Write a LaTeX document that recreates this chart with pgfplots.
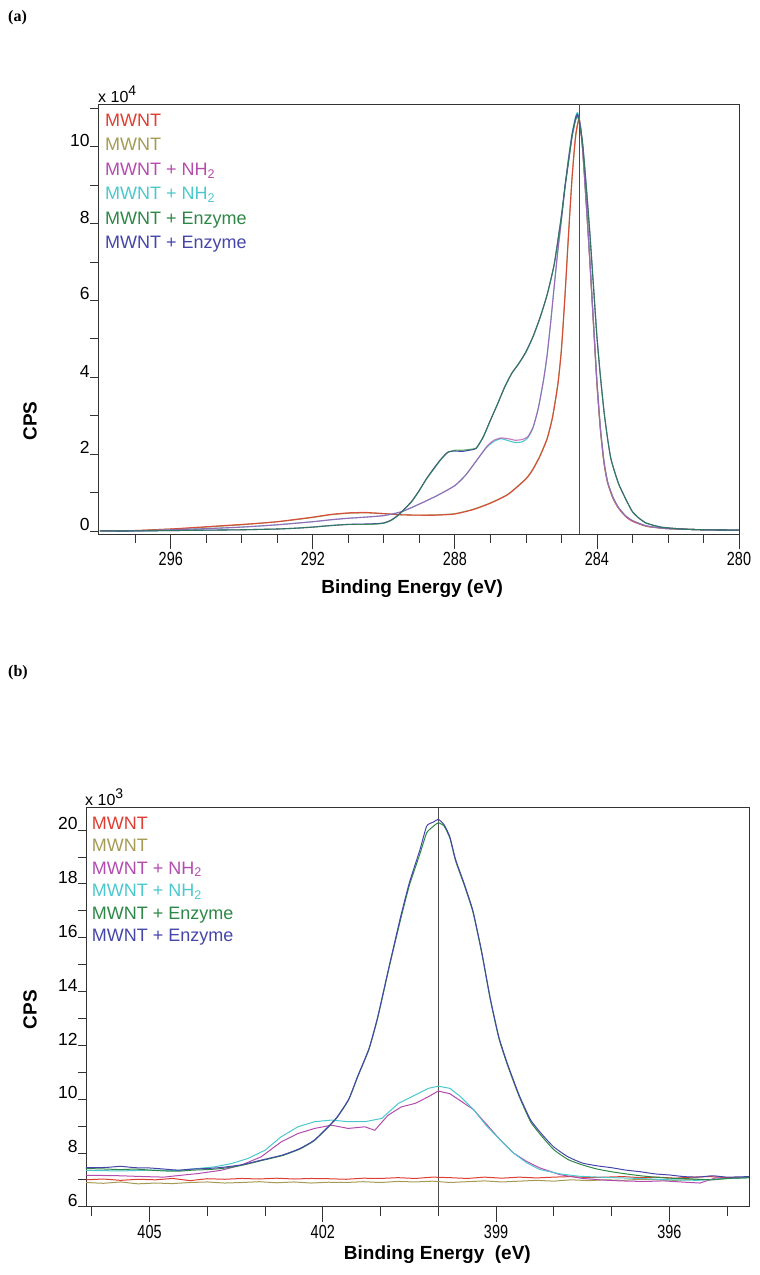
\documentclass[border=0pt]{standalone}
\usepackage{fontspec}
\setmainfont{Liberation Sans}
\newfontfamily\narrowfont{Liberation Sans}[FakeStretch=0.76]
\newfontfamily\serifbf{Liberation Serif}
\usepackage{pgfplots}
\pgfplotsset{compat=1.18}
\definecolor{cR}{RGB}{222,62,50}
\definecolor{cO}{RGB}{165,155,85}
\definecolor{cM}{RGB}{180,75,175}
\definecolor{cC}{RGB}{75,200,205}
\definecolor{cG}{RGB}{45,135,70}
\definecolor{cB}{RGB}{70,70,170}
\pgfplotsset{
  xps/.style={
    scale only axis, x dir=reverse,
    axis line style={black!80, line width=0.9pt},
    tick align=outside, tick pos=left,
    /pgf/number format/assume math mode=true,
    yticklabel style={font=\fontsize{17.5}{17.5}\selectfont, anchor=south east, inner sep=0pt, xshift=-4pt},
    xticklabel style={font=\fontsize{19}{19}\narrowfont, anchor=north, inner sep=0pt, yshift=-14pt},
    ytick style={/pgfplots/major tick length=8pt, /pgfplots/minor tick length=8pt, line width=0.8pt, black!80},
    xtick style={/pgfplots/major tick length=15pt, /pgfplots/minor tick length=9pt, line width=0.8pt, black!80},
    minor tick style={line width=0.8pt, black!80},
    xlabel style={font=\bfseries\fontsize{19}{19}\selectfont, anchor=center},
    ylabel style={font=\bfseries\fontsize{19}{19}\selectfont, anchor=center},
    every axis plot/.append style={no markers, line width=1.1pt},
  }
}
\begin{document}
\begin{tikzpicture}
\path[use as bounding box] (0pt,0pt) rectangle (760pt,-1275pt);
% ---------------- panel (a)
\node[anchor=base west, inner sep=0pt, font=\serifbf\bfseries\fontsize{16}{16}\selectfont] at (8pt,-21pt) {(a)};
\begin{axis}[xps, at={(98pt,-534pt)}, anchor=south west, width=641pt, height=430pt,
  xmin=280, xmax=298.05, ymin=-0.08, ymax=11.11,
  xtick={280,284,288,292,296}, minor xtick={281,282,283,285,286,287,289,290,291,293,294,295,297},
  ytick={0,2,4,6,8,10}, minor ytick={1,3,5,7,9,11},
  xlabel={Binding Energy (eV)}, xlabel style={at={(axis description cs:0.49,-0.128)}},
  ylabel={CPS}, ylabel style={at={(axis description cs:-0.106,0.263)}},
  every axis plot/.append style={smooth, tension=0.35},
]
\addplot[black!70, line width=0.8pt, sharp plot] coordinates {(284.5,-0.08) (284.5,11.11)};
% MWNT (olive)
\addplot[cO] table {
298 0.0
297 0.01
296.5 0.03
296 0.05
295.5 0.07
295 0.10
294.5 0.13
294 0.16
293.5 0.20
293 0.24
292.5 0.29
292 0.35
291.5 0.42
291 0.46
290.5 0.47
290 0.45
289.5 0.42
289 0.41
288.5 0.42
288 0.45
287.5 0.56
287 0.73
286.5 0.96
286 1.36
285.8 1.62
285.6 1.97
285.4 2.42
285.25 2.98
285.1 3.85
285.0 4.75
284.9 6.15
284.8 7.75
284.7 9.2
284.6 10.25
284.5 10.68
284.4 9.92
284.3 8.55
284.2 7.05
284.1 5.45
284.0 3.85
283.9 2.62
283.8 1.77
283.7 1.26
283.55 0.86
283.4 0.61
283.2 0.39
283.0 0.26
282.6 0.12
282 0.06
281 0.03
280 0.02
};
% MWNT (red)
\addplot[cR, opacity=0.85] table {
298 0.0
297 0.01
296.5 0.03
296 0.05
295.5 0.08
295 0.11
294.5 0.14
294 0.17
293.5 0.20
293 0.24
292.5 0.30
292 0.36
291.5 0.43
291 0.47
290.5 0.48
290 0.45
289.5 0.42
289 0.41
288.5 0.41
288 0.44
287.5 0.55
287 0.72
286.5 0.95
286 1.35
285.8 1.60
285.6 1.95
285.4 2.40
285.25 2.95
285.1 3.80
285.0 4.70
284.9 6.10
284.8 7.70
284.7 9.20
284.6 10.30
284.5 10.72
284.4 9.90
284.3 8.50
284.2 7.00
284.1 5.40
284.0 3.80
283.9 2.60
283.8 1.75
283.7 1.25
283.55 0.85
283.4 0.60
283.2 0.38
283.0 0.25
282.6 0.12
282 0.06
281 0.03
280 0.02
};
% NH2 (cyan)
\addplot[cC] table {
298 0
297 0.0
296 0.03
295 0.06
294 0.10
293 0.16
292 0.24
291.5 0.29
291 0.33
290.5 0.36
290 0.40
289.5 0.50
289 0.70
288.5 0.92
288 1.18
287.7 1.45
287.4 1.82
287.1 2.18
286.9 2.33
286.7 2.40
286.5 2.35
286.3 2.30
286.1 2.32
285.95 2.42
285.8 2.68
285.65 3.2
285.5 3.95
285.4 4.6
285.3 5.45
285.2 6.4
285.1 7.3
285.0 8.1
284.9 8.95
284.8 9.7
284.7 10.35
284.6 10.78
284.54 10.88
284.45 10.45
284.4 9.9
284.3 8.5
284.2 7.05
284.1 5.45
284.0 3.9
283.9 2.65
283.8 1.8
283.7 1.28
283.55 0.88
283.4 0.62
283.2 0.40
283.0 0.27
282.6 0.13
282 0.06
281 0.03
280 0.02
};
% NH2 (magenta)
\addplot[cM, opacity=0.75] table {
298 0
297 0.0
296 0.03
295 0.06
294 0.10
293 0.16
292 0.24
291.5 0.29
291 0.33
290.5 0.36
290 0.40
289.5 0.50
289 0.70
288.5 0.92
288 1.18
287.7 1.45
287.4 1.82
287.1 2.20
286.9 2.36
286.7 2.42
286.5 2.40
286.3 2.36
286.1 2.38
285.95 2.45
285.8 2.70
285.65 3.2
285.5 3.95
285.4 4.6
285.3 5.45
285.2 6.4
285.1 7.3
285.0 8.1
284.9 8.95
284.8 9.7
284.7 10.3
284.6 10.7
284.52 10.8
284.45 10.45
284.4 9.9
284.3 8.5
284.2 7.05
284.1 5.45
284.0 3.9
283.9 2.65
283.8 1.8
283.7 1.28
283.55 0.88
283.4 0.62
283.2 0.40
283.0 0.27
282.6 0.13
282 0.06
281 0.03
280 0.02
};
% Enzyme (blue)
\addplot[cB] table {
298 0
297 0
296 0.01
295 0.02
294 0.03
293.5 0.04
293 0.05
292.5 0.07
292 0.10
291.5 0.14
291 0.17
290.5 0.18
290.2 0.19
290 0.21
289.8 0.28
289.6 0.41
289.4 0.59
289.2 0.79
289.0 1.06
288.8 1.36
288.6 1.62
288.4 1.86
288.2 2.05
288.0 2.08
287.8 2.07
287.6 2.10
287.4 2.15
287.2 2.45
287.0 2.88
286.8 3.30
286.6 3.74
286.4 4.10
286.2 4.36
286.0 4.66
285.8 5.06
285.6 5.56
285.4 6.16
285.2 6.96
285.0 8.2
284.9 8.96
284.8 9.62
284.7 10.3
284.6 10.75
284.55 10.84
284.5 10.68
284.4 10.05
284.3 8.95
284.2 7.75
284.1 6.4
284.0 5.05
283.9 4.0
283.8 3.1
283.7 2.4
283.6 1.85
283.4 1.25
283.2 0.85
283.0 0.50
282.8 0.32
282.6 0.20
282.2 0.10
281.6 0.05
281 0.03
280 0.02
};
% Enzyme (green)
\addplot[cG, opacity=0.75] table {
298 0
297 0
296 0.01
295 0.02
294 0.03
293.5 0.04
293 0.05
292.5 0.07
292 0.10
291.5 0.14
291 0.17
290.5 0.17
290.2 0.18
290 0.20
289.8 0.27
289.6 0.40
289.4 0.58
289.2 0.78
289.0 1.05
288.8 1.35
288.6 1.60
288.4 1.85
288.2 2.04
288.0 2.10
287.8 2.10
287.6 2.12
287.4 2.16
287.2 2.45
287.0 2.88
286.8 3.30
286.6 3.74
286.4 4.10
286.2 4.35
286.0 4.65
285.8 5.05
285.6 5.55
285.4 6.15
285.2 6.95
285.0 8.2
284.9 8.95
284.8 9.6
284.7 10.25
284.6 10.7
284.55 10.78
284.5 10.65
284.4 10.05
284.3 8.95
284.2 7.75
284.1 6.4
284.0 5.05
283.9 4.0
283.8 3.1
283.7 2.4
283.6 1.85
283.4 1.25
283.2 0.85
283.0 0.50
282.8 0.32
282.6 0.20
282.2 0.10
281.6 0.05
281 0.03
280 0.02
};
\end{axis}
\node[anchor=base west, inner sep=0pt, font=\fontsize{16}{16}\selectfont] at (98pt,-102.5pt) {x 10\raisebox{7pt}{\fontsize{14}{14}\selectfont 4}};
\begin{scope}[every node/.style={anchor=base west, inner sep=0pt, font=\fontsize{18}{18}\selectfont}]
\node[text=cR] at (105pt,-126.4pt) {MWNT};
\node[text=cO] at (105pt,-150.9pt) {MWNT};
\node[text=cM] at (105pt,-175.4pt) {MWNT + NH\textsubscript{2}};
\node[text=cC] at (105pt,-199.9pt) {MWNT + NH\textsubscript{2}};
\node[text=cG] at (105pt,-224.4pt) {MWNT + Enzyme};
\node[text=cB] at (105pt,-248.9pt) {MWNT + Enzyme};
\end{scope}
% ---------------- panel (b)
\node[anchor=base west, inner sep=0pt, font=\serifbf\bfseries\fontsize{16}{16}\selectfont] at (8pt,-676pt) {(b)};
\begin{axis}[xps, at={(86pt,-1206.7pt)}, anchor=south west, width=663pt, height=399pt,
  xmin=394.62, xmax=406.1, ymin=6, ymax=20.83,
  xtick={396,399,402,405}, minor xtick={395,397,398,400,401,403,404,406},
  ytick={6,8,10,12,14,16,18,20}, minor ytick={7,9,11,13,15,17,19},
  every axis plot/.append style={line width=1pt},
  xlabel={Binding Energy\ \ (eV)}, xlabel style={at={(axis description cs:0.53,-0.12)}},
  ylabel={CPS}, ylabel style={at={(axis description cs:-0.0845,0.494)}},
]
\addplot[black!70, line width=0.8pt] coordinates {(400,6) (400,20.83)};
% MWNT (olive)
\addplot[cO] table {
406.1 6.90
405.8 6.87
405.5 6.92
405.2 6.85
404.9 6.88
404.6 6.86
404.3 6.90
404.0 6.92
403.7 6.88
403.4 6.90
403.1 6.93
402.8 6.89
402.5 6.92
402.2 6.88
401.9 6.91
401.6 6.90
401.3 6.93
401.0 6.90
400.7 6.94
400.4 6.92
400.1 6.95
399.8 6.90
399.5 6.93
399.2 6.96
398.9 6.92
398.6 6.95
398.3 6.98
398.0 6.95
397.7 7.00
397.4 6.97
397.1 7.00
396.8 6.98
396.5 7.02
396.2 7.00
395.9 6.98
395.6 7.02
395.3 7.00
395.0 7.05
394.62 7.08
};
% MWNT (red)
\addplot[cR] table {
406.1 7.00
405.8 7.03
405.5 6.98
405.2 7.02
404.9 7.00
404.6 7.05
404.3 6.97
404.0 7.04
403.7 7.02
403.4 7.05
403.1 7.03
402.8 7.06
402.5 7.03
402.2 7.05
401.9 7.04
401.6 7.02
401.3 7.06
401.0 7.05
400.7 7.08
400.4 7.05
400.1 7.10
399.8 7.08
399.5 7.05
399.2 7.10
398.9 7.06
398.6 7.10
398.3 7.07
398.0 7.10
397.7 7.12
397.4 7.08
397.1 7.10
396.8 7.12
396.5 7.08
396.2 7.10
395.9 7.06
395.6 7.10
395.3 7.12
395.0 7.08
394.62 7.10
};
% NH2 (magenta)
\addplot[cM] table {
406.1 7.17
405.8 7.16
405.5 7.15
405.1 7.12
404.75 7.10
404.45 7.17
404.17 7.23
403.77 7.35
403.42 7.54
403.07 7.85
402.72 8.41
402.43 8.72
402.14 8.91
401.85 9.03
401.56 8.91
401.27 8.97
401.1 8.84
400.87 9.40
400.64 9.71
400.4 9.84
400.17 10.09
400.0 10.30
399.8 10.20
399.66 10.00
399.39 9.61
399.16 9.05
398.93 8.49
398.7 8.00
398.47 7.68
398.24 7.44
397.89 7.19
397.5 7.05
397.2 7.00
396.97 6.97
396.7 6.95
396.39 6.94
396.1 6.96
395.8 6.92
395.47 6.88
395.2 7.07
394.9 7.05
394.62 7.10
};
% NH2 (cyan)
\addplot[cC] table {
406.1 7.35
405.8 7.34
405.5 7.33
405.0 7.36
404.5 7.35
404.17 7.42
403.88 7.48
403.59 7.60
403.3 7.79
403.0 8.10
402.72 8.60
402.43 8.97
402.14 9.16
401.85 9.22
401.56 9.16
401.27 9.16
400.98 9.28
400.69 9.84
400.4 10.15
400.17 10.40
400.0 10.48
399.8 10.40
399.62 10.10
399.39 9.61
399.16 8.99
398.93 8.49
398.7 8.00
398.47 7.63
398.24 7.38
397.89 7.22
397.55 7.13
397.0 7.08
396.5 7.05
396.0 7.00
395.5 6.98
395.0 7.05
394.62 7.08
};
% Enzyme (green)
\addplot[cG, smooth, tension=0.3] table {
406.1 7.42
405.75 7.40
405.5 7.38
405.25 7.40
405.0 7.36
404.75 7.33
404.5 7.32
404.25 7.36
404.0 7.38
403.75 7.42
403.4 7.54
403.05 7.72
402.7 7.90
402.4 8.14
402.15 8.45
401.9 8.97
401.75 9.32
401.55 9.98
401.4 10.80
401.2 11.85
401.05 13.00
400.85 14.90
400.65 16.70
400.5 17.95
400.32 19.10
400.2 19.90
400.08 20.15
400.0 20.27
399.9 20.15
399.8 19.70
399.7 18.85
399.55 17.95
399.4 16.95
399.25 15.45
399.1 13.70
398.95 12.25
398.8 11.25
398.6 10.10
398.4 9.15
398.2 8.60
398.0 8.12
397.75 7.75
397.5 7.55
397.25 7.40
397.0 7.30
396.75 7.22
396.5 7.15
396.25 7.10
396.0 7.06
395.75 7.05
395.5 7.02
395.25 7.00
395.0 7.05
394.62 7.08
};
% Enzyme (blue)
\addplot[cB, smooth, tension=0.3] table {
406.1 7.45
405.75 7.46
405.5 7.50
405.25 7.45
405.0 7.44
404.75 7.40
404.5 7.36
404.25 7.40
404.0 7.42
403.75 7.46
403.4 7.56
403.05 7.74
402.7 7.92
402.4 8.16
402.15 8.47
401.9 8.99
401.75 9.34
401.55 10.00
401.4 10.83
401.2 11.88
401.05 13.05
400.85 14.95
400.65 16.80
400.5 18.05
400.32 19.25
400.2 20.15
400.08 20.30
400.0 20.40
399.9 20.20
399.8 19.75
399.7 18.90
399.55 18.00
399.4 17.00
399.25 15.50
399.1 13.75
398.95 12.30
398.8 11.30
398.6 10.15
398.4 9.22
398.2 8.68
398.0 8.22
397.75 7.85
397.5 7.62
397.25 7.52
397.0 7.45
396.75 7.36
396.5 7.30
396.25 7.22
396.0 7.18
395.75 7.12
395.5 7.10
395.25 7.15
395.0 7.10
394.62 7.12
};
\end{axis}
\node[anchor=base west, inner sep=0pt, font=\fontsize{16}{16}\selectfont] at (85pt,-805pt) {x 10\raisebox{7pt}{\fontsize{14}{14}\selectfont 3}};
\begin{scope}[every node/.style={anchor=base west, inner sep=0pt, font=\fontsize{18}{18}\selectfont}]
\node[text=cR] at (91.7pt,-829pt) {MWNT};
\node[text=cO] at (91.7pt,-851.5pt) {MWNT};
\node[text=cM] at (91.7pt,-874pt) {MWNT + NH\textsubscript{2}};
\node[text=cC] at (91.7pt,-896.5pt) {MWNT + NH\textsubscript{2}};
\node[text=cG] at (91.7pt,-919pt) {MWNT + Enzyme};
\node[text=cB] at (91.7pt,-941.5pt) {MWNT + Enzyme};
\end{scope}
\end{tikzpicture}
\end{document}
